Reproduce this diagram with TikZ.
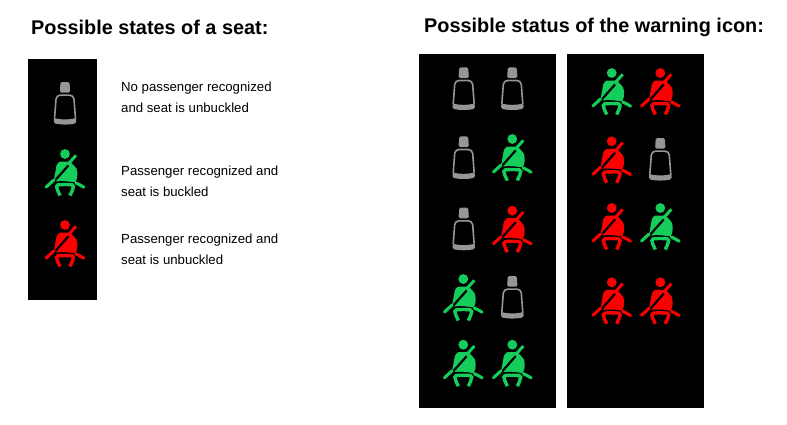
\documentclass[tikz,border=0pt]{standalone}
\usepackage{fontspec}
\setmainfont{Liberation Sans}
\definecolor{sgreen}{RGB}{20,205,90}
\definecolor{sred}{RGB}{250,0,0}
\definecolor{sgrey}{RGB}{150,150,150}
\tikzset{
  panel/.style={fill=black,draw=none},
  headline/.style={font=\bfseries\fontsize{19.85}{24}\selectfont,anchor=west,inner sep=0pt},
  note/.style={font=\fontsize{13.2}{21}\selectfont,anchor=north west,align=left,inner sep=0pt},
  pics/person/.style={code={
    \fill[#1] (0,0) circle (4.9);
    % torso
    \fill[#1] (-5,7.5) .. controls (-6.5,8.5) and (-8,9.5) .. (-8.5,11.5) -- (-11.3,27) -- (-9,28)
       .. controls (-3,27.5) and (4,27.5) .. (10.5,28.5)
       .. controls (13.5,23) and (13,14) .. (9.5,12) -- (5,7.5) -- cycle;
    % belt tip
    \draw[#1,line width=3] (11,1.3) -- (4,9.2);
    % black stripe across the torso
    \draw[black,line width=2.2] (-11.3,28) -- (3.4,11.4);
    % gap under the torso
    \draw[black,line width=1.6] (-10,28.4) .. controls (-4,27.6) and (4,27.8) .. (12,30);
    % lap belt arms
    \draw[#1,line width=3.1,line cap=round] (-18.8,33) -- (-11.2,26);
    \draw[#1,line width=3.1,line cap=round] (18.8,33.2) .. controls (16,31.5) and (13.5,30) .. (11,29);
    % legs
    \draw[#1,line width=3.4] (-5,41.5) .. controls (-6.5,38) and (-8.4,35) .. (-8.4,32.5) .. controls (-8.4,31.5) and (-7.9,31) .. (-6.9,30.8)
       .. controls (-3,30.4) and (3,30.4) .. (6.9,30.8) .. controls (7.9,31) and (8.4,31.5) .. (8.4,32.5) .. controls (8.4,35) and (6.5,38) .. (5,41.5);
  }},
  pics/seat/.style={code={
    \fill[sgrey,rounded corners=1.5] (-4.5,-5.3) -- (4.5,-5.3) -- (5.2,5.3) -- (-5.2,5.3) -- cycle;
    \draw[sgrey,line width=1.6,rounded corners=4] (-10.5,31.5) -- (-8.7,7.8) -- (8.7,7.8) -- (10.5,31.5);
    \fill[sgrey,rounded corners=1.5] (-11.2,30.7) .. controls (-4,32.5) and (4,32.5) .. (11.2,30.7) -- (11.2,36) .. controls (4,37.6) and (-4,37.6) .. (-11.2,36) -- cycle;
  }},
}
\begin{document}
\begin{tikzpicture}[x=1pt,y=-1pt]
\useasboundingbox (0,0) rectangle (787,424);
\node[headline] (t1) at (31,27) {Possible states of a seat:};
\node[headline] (t2) at (424,27) {Possible status of the warning icon:};
\fill[panel] (28,59) rectangle (97,300);
\fill[panel] (419,54) rectangle (556,408);
\fill[panel] (567,54) rectangle (704,408);
\pic at (65,87.3) {seat};
\pic at (65,154) {person=sgreen};
\pic at (65,225) {person=sred};
\node[note] (n1) at (121,82) {No passenger recognized\\and seat is unbuckled};
\node[note] (n2) at (121,166) {Passenger recognized and\\seat is buckled};
\node[note] (n3) at (121,234) {Passenger recognized and\\seat is unbuckled};
\pic at (463.7,72.7) {seat};
\pic at (512.3,72.7) {seat};
\pic at (463.7,141.7) {seat};
\pic at (512.3,139) {person=sgreen};
\pic at (463.7,213) {seat};
\pic at (512.3,210.7) {person=sred};
\pic at (463.3,279) {person=sgreen};
\pic at (512.3,281.3) {seat};
\pic at (463.3,344.7) {person=sgreen};
\pic at (512.3,344.7) {person=sgreen};
\pic at (611.7,73) {person=sgreen};
\pic at (660.3,73) {person=sred};
\pic at (611.7,141.3) {person=sred};
\pic at (660.3,143.3) {seat};
\pic at (611.7,208) {person=sred};
\pic at (660.3,208) {person=sgreen};
\pic at (611.7,282.3) {person=sred};
\pic at (660.3,282.3) {person=sred};
\end{tikzpicture}
\end{document}
